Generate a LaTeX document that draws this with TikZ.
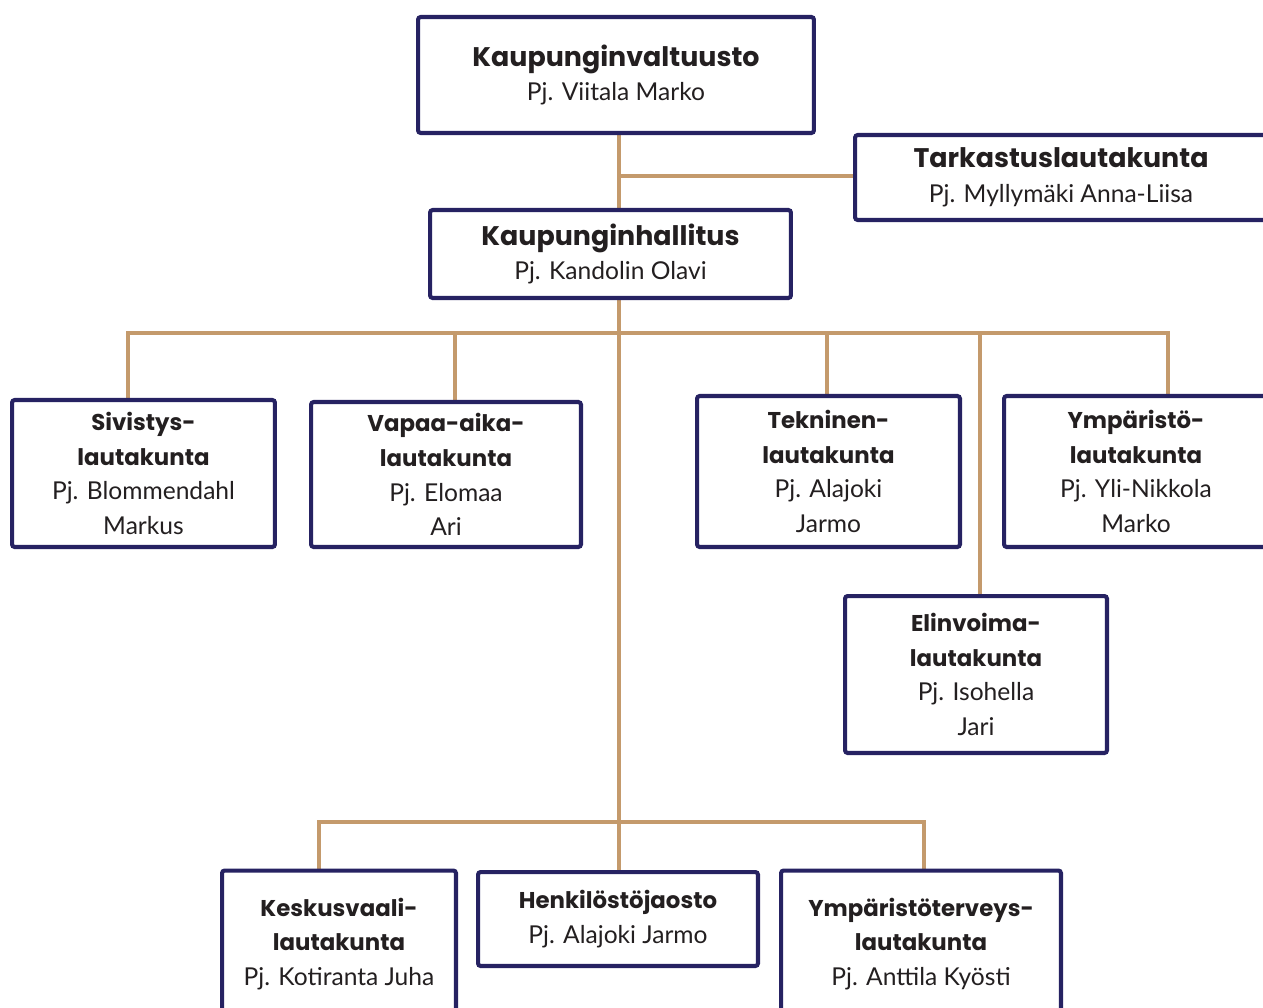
\documentclass[tikz,border=0pt]{standalone}
\usepackage{fontspec}
\setmainfont{Lato}
\newfontfamily\headfont{Poppins}
\newcommand{\boxtitle}[1]{{\headfont\bfseries\fontsize{15.3}{19.8}\selectfont #1}}
\newcommand{\unittitle}[1]{{\headfont\bfseries\fontsize{13}{19.8}\selectfont #1}}
\usetikzlibrary{backgrounds}
\definecolor{navy}{HTML}{262262}
\definecolor{tan}{HTML}{C49A6C}
\definecolor{ink}{HTML}{231F20}
\begin{document}
\begin{tikzpicture}[x=0.02cm, y=-0.02cm,
    box/.style={draw=navy, line width=2.3pt, rounded corners=1.5pt, fill=white,
        text=ink, align=center, inner sep=0pt,
        font=\fontsize{14}{19.8}\selectfont},
    link/.style={draw=tan, line width=2.2pt}]
    \useasboundingbox (0,0) rectangle (1263,1007);
    \clip (0,0) rectangle (1263,1007);

    \node[box, minimum width=7.92cm, minimum height=2.32cm] (kv)  at (616,75)      {\boxtitle{Kaupunginvaltuusto}\\Pj. Viitala Marko};
    \node[box, minimum width=8.24cm, minimum height=1.70cm] (tl)  at (1061,177.5)  {\boxtitle{Tarkastuslautakunta}\\Pj. Myllymäki Anna-Liisa};
    \node[box, minimum width=7.22cm, minimum height=1.76cm] (kh)  at (610.5,254)   {\boxtitle{Kaupunginhallitus}\\Pj. Kandolin Olavi};
    \node[box, minimum width=5.26cm, minimum height=2.94cm] (siv) at (143.5,473.5) {\unittitle{Sivistys-}\\\unittitle{lautakunta}\\Pj. Blommendahl\\Markus};
    \node[box, minimum width=5.40cm, minimum height=2.90cm] (vap) at (446,474.5)   {\unittitle{Vapaa-aika-}\\\unittitle{lautakunta}\\Pj. Elomaa\\Ari};
    \node[box, minimum width=5.26cm, minimum height=3.02cm] (tek) at (828.5,471.5) {\unittitle{Tekninen-}\\\unittitle{lautakunta}\\Pj. Alajoki\\Jarmo};
    \node[box, minimum width=5.28cm, minimum height=3.02cm] (ymp) at (1136,471.5)  {\unittitle{Ympäristö-}\\\unittitle{lautakunta}\\Pj. Yli-Nikkola\\Marko};
    \node[box, minimum width=5.24cm, minimum height=3.14cm] (eli) at (976,674.5)   {\unittitle{Elinvoima-}\\\unittitle{lautakunta}\\Pj. Isohella\\Jari};
    \node[box, minimum width=4.68cm, minimum height=2.94cm] (kes) at (339,944)     {\unittitle{Keskusvaali-}\\\unittitle{lautakunta}\\Pj. Kotiranta Juha};
    \node[box, minimum width=5.60cm, minimum height=1.88cm] (hen) at (618,919)     {\unittitle{Henkilöstöjaosto}\\Pj. Alajoki Jarmo};
    \node[box, minimum width=5.60cm, minimum height=2.94cm] (yte) at (921,944)     {\unittitle{Ympäristöterveys-}\\\unittitle{lautakunta}\\Pj. Anttila Kyösti};

    % bus points
    \coordinate (tkv) at (619,176);
    \coordinate (tkh) at (619,333);
    \coordinate (tlo) at (619,822);
    \coordinate (bsiv) at (128,333);
    \coordinate (bvap) at (455,333);
    \coordinate (btek) at (827,333);
    \coordinate (beli) at (980,333);
    \coordinate (bymp) at (1168,333);
    \coordinate (bkes) at (319,822);
    \coordinate (byte) at (924,822);

    \begin{scope}[on background layer]
        \draw[link] (kv.south -| tkv) -- (kh.north -| tkv);
        \draw[link] (tkv) -- (tkv -| tl.west);
        \draw[link] (kh.south -| tkh) -- (tlo) -- (tlo |- hen.north);
        \draw[link] (bsiv |- siv.north) -- (bsiv) -- (bymp) -- (bymp |- ymp.north);
        \draw[link] (bvap) -- (bvap |- vap.north);
        \draw[link] (btek) -- (btek |- tek.north);
        \draw[link] (beli) -- (beli |- eli.north);
        \draw[link] (bkes |- kes.north) -- (bkes) -- (byte) -- (byte |- yte.north);
    \end{scope}
\end{tikzpicture}
\end{document}
